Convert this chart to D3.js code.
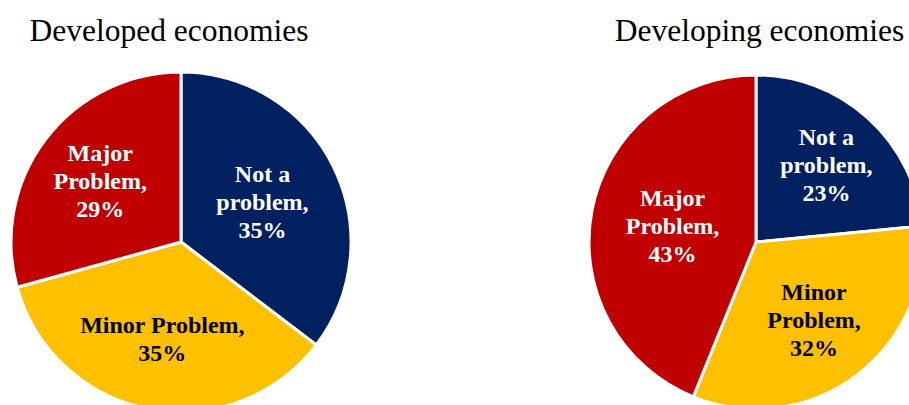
<!DOCTYPE html>
<html>
<head>
<meta charset="utf-8">
<script src="https://cdn.jsdelivr.net/npm/d3@7"></script>
<style>
  html, body { margin: 0; padding: 0; background: #ffffff; }
  svg { display: block; }
</style>
</head>
<body>
<div id="chart"></div>
<script>
// Survey answers: how much of a problem, by group of economies
const categories = ["Not a problem", "Minor Problem", "Major Problem"];
const developedValues = [35, 35, 29];
const developingValues = [23, 32, 43];
const panelTitles = ["Developed economies", "Developing economies"];

// How each slice label breaks across lines in each pie
const developedLabelLines = [["Not a", "problem,"], ["Minor Problem,"], ["Major", "Problem,"]];
const developingLabelLines = [["Not a", "problem,"], ["Minor", "Problem,"], ["Major", "Problem,"]];

const sliceColors = ["#002060", "#FFC000", "#C00000"];

const width = 909, height = 405;

// Layout of the two pies
const panels = [
  { title: panelTitles[0], values: developedValues, lines: developedLabelLines,
    cx: 181, cy: 242, r: 170, titleX: 169, labelFrac: [0.535, 0.58, 0.597] },
  { title: panelTitles[1], values: developingValues, lines: developingLabelLines,
    cx: 756, cy: 242, r: 167, titleX: 759.5, labelFrac: [0.627, 0.581, 0.509] }
];

const svg = d3.select("#chart").append("svg")
  .attr("width", width)
  .attr("height", height)
  .attr("viewBox", [0, 0, width, height]);

const color = d3.scaleOrdinal().domain(categories).range(sliceColors);

const pie = d3.pie().sort(null).value(d => d.value);

const labelFont = "'Liberation Serif', 'Times New Roman', serif";
const lineHeight = 28;

panels.forEach(p => {
  // Panel heading
  svg.append("text")
    .attr("x", p.titleX)
    .attr("y", 41)
    .attr("text-anchor", "middle")
    .attr("font-family", labelFont)
    .attr("font-size", 31.5)
    .attr("fill", "#000")
    .text(p.title);

  const rows = categories.map((c, i) => ({ category: c, value: p.values[i], lines: p.lines[i], frac: p.labelFrac[i] }));
  const arcs = pie(rows);

  const arc = d3.arc().innerRadius(0).outerRadius(p.r);

  const g = svg.append("g").attr("transform", `translate(${p.cx},${p.cy})`);

  g.selectAll("path.slice")
    .data(arcs)
    .join("path")
    .attr("class", "slice")
    .attr("d", arc)
    .attr("fill", d => color(d.data.category))
    .attr("stroke", "#ffffff")
    .attr("stroke-width", 3)
    .attr("stroke-linejoin", "miter");

  // Slice labels: category name and share, centred on a point inside each slice
  g.selectAll("text.label")
    .data(arcs)
    .join("text")
    .attr("class", "label")
    .attr("font-family", labelFont)
    .attr("font-weight", "bold")
    .attr("font-size", 24)
    .attr("text-anchor", "middle")
    .attr("fill", d => d.data.category === "Minor Problem" ? "#000000" : "#ffffff")
    .each(function(d) {
      const lr = p.r * d.data.frac;
      const [x, y] = d3.arc().innerRadius(lr).outerRadius(lr).centroid(d);
      const lines = d.data.lines.concat([d.data.value + "%"]);
      const y0 = y - (lines.length - 1) * lineHeight / 2 + 8;
      d3.select(this).selectAll("tspan")
        .data(lines)
        .join("tspan")
        .attr("x", x)
        .attr("y", (l, i) => y0 + i * lineHeight)
        .text(l => l);
    });
});
</script>
</body>
</html>
